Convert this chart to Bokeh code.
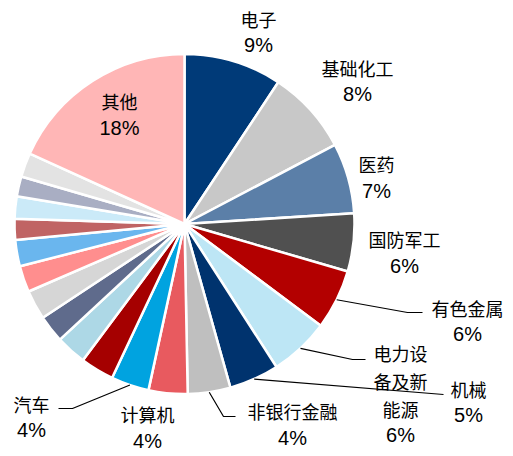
import math
from bokeh.plotting import figure
from bokeh.models import Range1d
from bokeh.core.properties import value
from bokeh.embed import file_html
from bokeh.resources import INLINE

# ---- data (clockwise from 12 o'clock) ----
sectors = ["电子", "基础化工", "医药", "国防军工", "有色金属", "电力设备及新能源",
           "机械", "非银行金融", "计算机", "汽车",
           "s1", "s2", "s3", "s4", "s5", "s6", "s7", "s8", "s9", "s10", "其他"]
shares = [9.3, 8.0, 6.7, 5.5, 5.7, 5.7, 4.75, 4.05, 3.7, 3.6,
          3.2, 2.9, 2.6, 2.8, 2.5, 2.5, 2.0, 2.1, 1.9, 2.3, 18.2]
pct_labels = ["9%", "8%", "7%", "6%", "6%", "6%", "5%", "4%", "4%", "4%",
              "", "", "", "", "", "", "", "", "", "", "18%"]
colors = ["#003A78", "#C8C8C8", "#5B7FA8", "#505050", "#B30000", "#BDE6F5",
          "#00336E", "#BFBFBF", "#E85A5F", "#00A3E0",
          "#A50000", "#ADD8E6", "#5F6B8C", "#D6D6D6", "#FF8E8E", "#6AB6EE",
          "#C06464", "#CBEAF8", "#A9AEC3", "#E3E3E3", "#FFB6B6"]

# ---- layout (image pixel coordinates) ----
W, H = 513, 456
CX, CY, R = 184, 223.5, 170

# label text lines and positions: (x_center, [y of each line])
label_layout = {
    "电子": (258, ["电子"], [18, 44]),
    "基础化工": (357, ["基础化工"], [67, 93]),
    "医药": (376, ["医药"], [163, 190]),
    "国防军工": (404, ["国防军工"], [238, 265]),
    "有色金属": (467, ["有色金属"], [307, 333]),
    "电力设备及新能源": (400, ["电力设", "备及新", "能源"], [352, 380, 408, 434]),
    "机械": (468, ["机械"], [388, 414]),
    "非银行金融": (292, ["非银行金融"], [410, 437]),
    "计算机": (147, ["计算机"], [413, 440]),
    "汽车": (31, ["汽车"], [403, 429]),
    "其他": (119, ["其他"], [100, 127]),
}
# leader line elbow and end points
leaders = {
    "有色金属": [(407, 312), (422, 312)],
    "电力设备及新能源": [(352, 359), (365, 359)],
    "机械": [(443, 394)],
    "非银行金融": [(223, 416), (235, 416)],
    "汽车": [(72, 408), (58, 408)],
}

def fy(py):
    return H - py

p = figure(width=W, height=H, output_backend="svg", toolbar_location=None,
           x_range=Range1d(0, W), y_range=Range1d(fy(H), fy(0)),
           min_border=0)
p.axis.visible = False
p.grid.visible = False
p.outline_line_color = None
p.background_fill_color = "white"

total = sum(shares)
cum = 0.0
starts, ends, mids = [], [], []
for s in shares:
    a0 = math.pi / 2 - 2 * math.pi * cum / total
    cum += s
    a1 = math.pi / 2 - 2 * math.pi * cum / total
    starts.append(a1)
    ends.append(a0)
    mids.append((a0 + a1) / 2)

p.wedge(x=[CX] * len(shares), y=[fy(CY)] * len(shares), radius=R,
        start_angle=starts, end_angle=ends, fill_color=colors,
        line_color="white", line_width=2.5)

cn_font = value("Noto Sans CJK SC")
num_font = value("Liberation Sans")

for i, name in enumerate(sectors):
    if name in leaders:
        sx = CX + R * math.cos(mids[i])
        sy = fy(CY) + R * math.sin(mids[i])
        xs = [sx] + [pt[0] for pt in leaders[name]]
        ys = [sy] + [fy(pt[1]) for pt in leaders[name]]
        p.line(xs, ys, line_color="black", line_width=1.2)
    if name in label_layout:
        lx, lines, ys = label_layout[name]
        for ln, yy in zip(lines, ys[:-1]):
            p.text(x=[lx], y=[fy(yy)], text=[ln], text_font=cn_font,
                   text_font_size="18px", text_align="center",
                   text_baseline="middle", text_color="black")
        p.text(x=[lx], y=[fy(ys[-1])], text=[pct_labels[i]], text_font=num_font,
               text_font_size="20px", text_align="center",
               text_baseline="middle", text_color="black")

open("out.html", "w").write(file_html(p, INLINE))
